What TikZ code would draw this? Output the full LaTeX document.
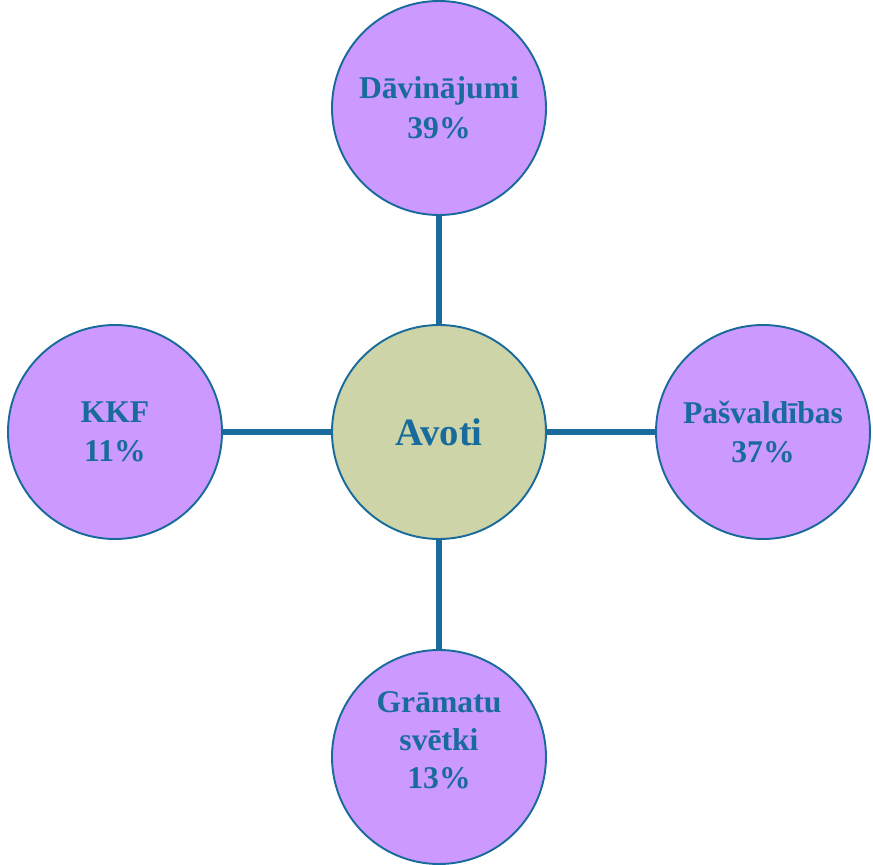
\documentclass[tikz,border=0pt]{standalone}
\usepackage{fontspec}
\setmainfont{Liberation Serif}
\definecolor{ringblue}{HTML}{186B9B}
\definecolor{lilac}{HTML}{CC99FF}
\definecolor{sage}{HTML}{CCD4A8}
\begin{document}
\begin{tikzpicture}[
  part/.style={circle, draw=ringblue, line width=1.1pt, fill=lilac,
    minimum size=4.28cm, inner sep=0pt, align=center,
    text=ringblue, font=\fontsize{18}{22.5}\selectfont\bfseries},
  hub/.style={part, fill=sage, font=\fontsize{22}{26}\selectfont\bfseries},
  caption/.style={align=center, text=ringblue, inner sep=0pt,
    font=\fontsize{18}{21.5}\selectfont\bfseries},
  spoke/.style={draw=ringblue, line width=3.2pt}
]
\useasboundingbox (0,0) rectangle (17.46,-17.30);

\node[hub] (avoti) at (8.78,-8.64) {Avoti};

\node[part] (dav) at (8.78,-2.16) {Dāvinājumi\\39\%};
\node[part] (kkf) at (2.30,-8.64) {KKF\\11\%};
\node[part] (pasv) at (15.26,-8.64) {Pašvaldības\\37\%};
\node[part] (gram) at (8.78,-15.14) {};
\node[caption] (gramtxt) at ([yshift=0.34cm]gram.center) {Grāmatu\\svētki\\13\%};

\draw[spoke] (avoti) -- (dav);
\draw[spoke] (avoti) -- (kkf);
\draw[spoke] (avoti) -- (pasv);
\draw[spoke] (avoti) -- (gram);

\end{tikzpicture}
\end{document}
